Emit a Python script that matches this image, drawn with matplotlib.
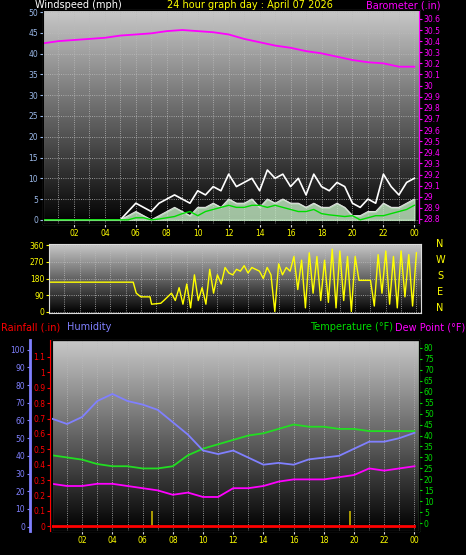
import numpy as np
import matplotlib
matplotlib.use("Agg")
import matplotlib.pyplot as plt
from matplotlib.colors import LinearSegmentedColormap

# ---- data ----
hours = list(range(25))
baro = [30.38, 30.40, 30.41, 30.42, 30.43, 30.45, 30.46, 30.47, 30.49, 30.50, 30.49, 30.48,
        30.46, 30.42, 30.39, 30.36, 30.34, 30.31, 30.29, 30.26, 30.23, 30.21, 30.20, 30.17, 30.17]

half_hours = [i * 0.5 for i in range(49)]
gust = [0, 0, 0, 0, 0, 0, 0, 0, 0, 0, 0, 2, 4, 3, 2, 4, 5, 6, 5, 4, 7, 6, 8, 7, 11, 8, 9, 10,
        7, 12, 10, 11, 8, 10, 6, 11, 8, 7, 9, 8, 4, 3, 5, 4, 11, 8, 6, 9, 10]
gust_low = [0, 0, 0, 0, 0, 0, 0, 0, 0, 0, 0, 1, 2, 1, 0, 1, 2, 3, 2, 1, 3, 3, 4, 3, 5, 4, 4, 5,
            3, 5, 4, 5, 4, 4, 3, 4, 3, 3, 4, 3, 1, 1, 2, 2, 4, 3, 3, 4, 5]
wind_avg = [0, 0, 0, 0, 0, 0, 0, 0, 0, 0, 0, 0, 0.5, 0.5, 0, 0.2, 0.5, 0.8, 1.5, 2, 1, 2, 2.5, 3,
            3.5, 3, 3, 3.5, 3.5, 3, 3.5, 3, 2.5, 2, 2, 2.5, 1.5, 1.2, 1, 0.8, 1, 0, 0.5, 1, 1,
            1.5, 2, 2.5, 3.5]

dir_times_early = [0, 5.5, 5.7, 6.0, 6.6, 6.7, 7.3, 7.5, 8.0]
dir_early = [160, 160, 100, 80, 80, 40, 45, 60, 100]
dir_times_late = [8 + i * 0.25 for i in range(65)]
dir_late = [100, 60, 130, 40, 150, 20, 200, 60, 130, 40, 230, 100, 200, 150, 240, 210,
            200, 230, 220, 250, 210, 240, 230, 220, 180, 240, 200, 0, 260, 200, 240, 220,
            300, 120, 280, 20, 320, 100, 300, 60, 280, 50, 340, 20, 330, 60, 300, 0,
            300, 170, 170, 170, 170, 30, 310, 100, 330, 40, 300, 20, 330, 80, 310, 30, 320]

temp = [31, 30, 29, 27, 26, 26, 25, 25, 26, 31, 34, 36, 38, 40, 41, 43, 45, 44, 44, 43, 43,
        42, 42, 42, 42]
humidity = [61, 58, 62, 71, 75, 71, 69, 66, 59, 52, 43, 41, 43, 39, 35, 36, 35, 38, 39, 40, 44,
            48, 48, 50, 53]
dewpoint = [18, 17, 17, 18, 18, 17, 16, 15, 13, 14, 12, 12, 16, 16, 17, 19, 20, 20, 20, 21, 22,
            25, 24, 25, 26]
rain = [0] * 25
solar_marks = [6.6, 19.7]

hour_labels = ["02", "04", "06", "08", "10", "12", "14", "16", "18", "20", "22", "00"]

W, H = 466, 555
fig = plt.figure(figsize=(W / 100, H / 100), dpi=100, facecolor="black")
FS = 5.5
TF = 7
grad = LinearSegmentedColormap.from_list("g", ["#000000", "#c8c8c8"])


def ax_at(x0, y0, x1, y1):
    return fig.add_axes([x0 / W, 1 - y1 / H, (x1 - x0) / W, (y1 - y0) / H])


def style(ax, xmin, xmax):
    ax.set_facecolor("black")
    ax.imshow(np.linspace(1, 0, 256).reshape(-1, 1), cmap=grad, aspect="auto",
              extent=[0, 1, 0, 1], transform=ax.transAxes, zorder=0)
    ax.set_xlim(xmin, xmax)
    ax.set_xticks(range(2, 25, 2))
    ax.set_xticks(range(0, 25), minor=True)
    ax.grid(True, which="both", axis="x", color="#bbbbbb", ls=":", lw=0.6)
    ax.grid(True, axis="y", color="#bbbbbb", ls=":", lw=0.6)
    for s in ax.spines.values():
        s.set_color("#dddddd")
    ax.tick_params(colors="#dddddd", labelsize=FS, length=2, pad=1.5)


# ---- wind / barometer ----
ax1 = ax_at(43, 10, 419, 224)
style(ax1, 0.1, 24.3)
ax1.set_ylim(-1, 50.5)
ax1.set_yticks(range(0, 51, 5))
ax1.tick_params(axis="y", labelcolor="#9ab8e8", colors="#9ab8e8")
ax1.set_xticklabels(hour_labels, color="yellow")
ax1.fill_between(half_hours, 0, gust_low, color="#c8f0c8", alpha=0.8, zorder=2)
ax1.plot(half_hours, gust, color="white", lw=1.2, zorder=3)
ax1.plot(half_hours, gust_low, color="#e0e0e0", lw=0.8, zorder=3)
ax1.plot(half_hours, wind_avg, color="#00dd00", lw=1, zorder=4)
ax1b = ax1.twinx()
ax1b.set_ylim(28.755, 30.68)
ax1b.set_yticks(np.round(np.arange(28.8, 30.65, 0.1), 1))
ax1b.set_yticklabels([f"{v:g}" for v in np.round(np.arange(28.8, 30.65, 0.1), 1)])
ax1b.tick_params(colors="#ff00ff", labelsize=FS, length=2, pad=1.5)
ax1b.spines["right"].set_color("#ff00ff")
ax1b.plot(hours, baro, color="#ff00ff", lw=1.3)
fig.text(35 / W, 1 - 5 / H, "Windspeed (mph)", color="white", fontsize=TF, va="center")
fig.text(250 / W, 1 - 5 / H, "24 hour graph day : April 07 2026", color="yellow",
         fontsize=TF, va="center", ha="center")
fig.text(440 / W, 1 - 5 / H, "Barometer (.in)", color="#ff00ff", fontsize=TF,
         va="center", ha="right")

# ---- wind direction ----
ax2 = ax_at(49, 244, 421, 313)
style(ax2, 0.1, 24.3)
ax2.set_ylim(-8, 368)
ax2.set_yticks([0, 90, 180, 270, 360])
ax2.tick_params(axis="y", labelcolor="yellow", colors="yellow")
ax2.set_xticklabels([])
ax2.tick_params(axis="x", length=0)
ax2.plot(dir_times_early + dir_times_late, dir_early + dir_late, color="yellow", lw=1)
for i, lab in enumerate(["N", "W", "S", "E", "N"]):
    fig.text(440 / W, 1 - (244 + i * 16) / H, lab, color="yellow", fontsize=TF,
             ha="center", va="center")

fig.text(1 / W, 1 - 327 / H, "Rainfall (.in)", color="red", fontsize=TF, va="center")
fig.text(67 / W, 1 - 327 / H, "Humidity", color="#8080ff", fontsize=TF, va="center")
fig.text(393 / W, 1 - 327 / H, "Temperature (°F)", color="#00dd00", fontsize=TF,
         va="center", ha="right")
fig.text(465 / W, 1 - 327 / H, "Dew Point (°F)", color="#ff00ff", fontsize=TF,
         va="center", ha="right")

# ---- temperature / humidity / rain ----
ax3 = ax_at(52, 340, 419, 531)
style(ax3, 0.1, 24.3)
ax3.set_xticklabels(hour_labels, color="yellow")
ax3.set_ylim(-3.5, 83.5)
ax3.set_yticks([])
ax3.plot(hours, temp, color="#22dd22", lw=1.3, zorder=3)
ax3.plot(hours, dewpoint, color="#ff00ff", lw=1.3, zorder=3)
ax3t = ax3.twinx()
ax3t.set_ylim(-3.5, 83.5)
ax3t.set_yticks(range(0, 81, 5))
ax3t.tick_params(colors="#00dd00", labelsize=FS, length=2, pad=1.5)
ax3t.spines["right"].set_color("#00dd00")

ax3h = ax3.twinx()
ax3h.set_ylim(-2.5, 105.5)
ax3h.plot(hours, humidity, color="#8080ff", lw=1.3, zorder=3)
ax3h.yaxis.set_ticks_position("left")
ax3h.spines["left"].set_position(("axes", -22 / 367))
ax3h.spines["left"].set_visible(True)
ax3h.spines["left"].set_color("#8080ff")
ax3h.spines["left"].set_linewidth(2)
ax3h.set_yticks(range(0, 101, 10))
ax3h.tick_params(colors="#8080ff", labelsize=FS, length=2, pad=1.5)

ax3r = ax3.twinx()
ax3r.set_ylim(-0.03, 1.21)
ax3r.yaxis.set_ticks_position("left")
ax3r.spines["left"].set_position(("axes", -2 / 367))
ax3r.spines["left"].set_visible(True)
ax3r.spines["left"].set_color("red")
ax3r.set_yticks(np.round(np.arange(0, 1.15, 0.1), 1))
ax3r.set_yticklabels([f"{v:g}" for v in np.round(np.arange(0, 1.15, 0.1), 1)])
ax3r.tick_params(colors="red", labelsize=FS, length=2, pad=1.5)
ax3r.plot(hours, rain, color="red", lw=2, zorder=4)
ax3r.vlines(solar_marks, 0, 0.1, color="#c8b400", lw=1.2)

fig.savefig("out.png", dpi=100, facecolor="black")
